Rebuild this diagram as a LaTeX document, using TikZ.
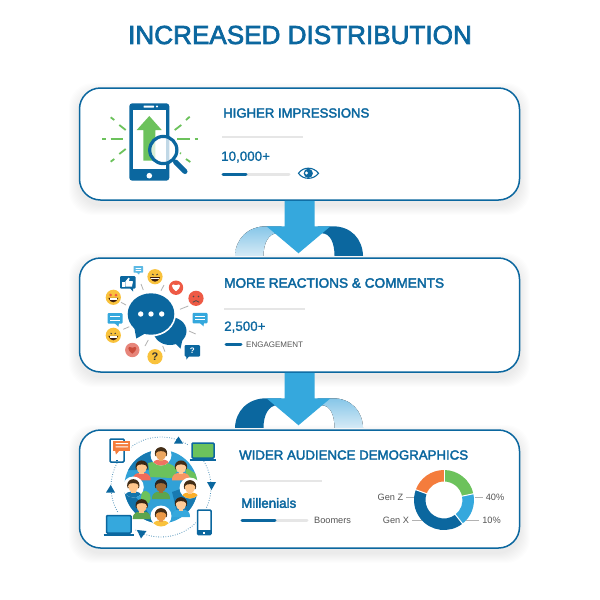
\documentclass[tikz,border=0pt]{standalone}
\usepackage{fontspec}
\setmainfont{Liberation Sans}
\newfontfamily\medfont[FakeBold=2.6]{Liberation Sans}
\newfontfamily\slimfont[FakeBold=1.2]{Liberation Sans}
\usetikzlibrary{calc}
\definecolor{dblue}{HTML}{0B679F}
\definecolor{lblue}{HTML}{35A8DD}
\definecolor{pale}{HTML}{D5EAF6}
\definecolor{pale2}{HTML}{86C6E8}
\definecolor{mygreen}{HTML}{6CC25C}
\definecolor{myorange}{HTML}{F47C3C}
\definecolor{myyellow}{HTML}{F9C23C}
\definecolor{myred}{HTML}{EE5A45}
\definecolor{barg}{HTML}{E6E6E6}
\definecolor{labg}{HTML}{555555}
\tikzset{
  cardbox/.style={draw=dblue,line width=1.5pt,rounded corners=21pt,fill=white,minimum width=440pt,inner sep=0pt},
  head/.style={text=dblue,anchor=west,inner sep=0pt,font=\fontsize{13.3}{14}\medfont},
  val/.style={text=dblue,anchor=west,inner sep=0pt,font=\fontsize{13.4}{14}\slimfont},
  lab/.style={text=labg,anchor=center,inner sep=0pt,font=\fontsize{9.2}{10}\selectfont},
  grayrule/.style={barg,line width=2.5pt},
  track/.style={barg,line width=3pt,line cap=round},
  prog/.style={dblue,line width=3pt,line cap=round},
  ray/.style={mygreen,line width=1.8pt},
  tick/.style={gray!60,line width=.8pt},
  leader/.style={gray!60,line width=1pt},
  dotring/.style={dblue!70,line width=.8pt,dash pattern=on .8pt off 1.6pt},
  devline/.style={draw=dblue,line width=1.5pt,rounded corners=1pt}
}
\newcommand{\shadowfor}[4]{% x1 y1 x2 y2
  \foreach \i in {1,...,10}{
    \fill[black,opacity=.009,rounded corners=24pt] (#1-\i,#2-\i+5) rectangle (#3+\i,#4+\i+5);
  }}
\newcommand{\flowarrow}[4]{% from, to, left colour spec, right colour spec
  \fill[#3] ($(#2.north)+(-64.5,-1.5)$) .. controls ($(#2.north)+(-64,-18)$) and ($(#2.north)+(-52,-31)$) .. ($(#2.north)+(-33,-31)$)
     -- ($(#2.north)+(-18,-31)$) -- ($(#2.north)+(-22,-24)$) .. controls ($(#2.north)+(-31,-24)$) and ($(#2.north)+(-36,-14)$) .. ($(#2.north)+(-36,-1.5)$) -- cycle;
  \fill[#4] ($(#2.north)+(63.5,-1.5)$) .. controls ($(#2.north)+(63,-18)$) and ($(#2.north)+(52,-31)$) .. ($(#2.north)+(33,-31)$)
     -- ($(#2.north)+(18,-31)$) -- ($(#2.north)+(22,-24)$) .. controls ($(#2.north)+(31,-24)$) and ($(#2.north)+(35,-14)$) .. ($(#2.north)+(35,-1.5)$) -- cycle;
  \fill[lblue] ($(#1.south)+(-15,0)$) -- ($(#1.south)+(15,0)$) -- ($(#2.north)+(15,-31)$) -- ($(#2.north)+(31,-31)$)
     -- ($(#2.north)+(-1,-4)$) -- ($(#2.north)+(-33,-31)$) -- ($(#2.north)+(-15,-31)$) -- cycle;
}
\newcommand{\heartshape}[3]{% x y colour
  \begin{scope}[shift={(#1,#2)}]
  \fill[#3] (0,4.2) .. controls (-5.5,0.2) and (-5.2,-4.5) .. (0,-1.8) .. controls (5.2,-4.5) and (5.5,0.2) .. cycle;
  \end{scope}}
\newcommand{\chatbox}[3]{% x y colour
  \begin{scope}[shift={(#1,#2)}]
  \fill[#3,rounded corners=1pt] (-7.5,-5.5) rectangle (7.5,5);
  \fill[#3] (-1,4) -- (4,4) -- (3.5,8) -- cycle;
  \fill[white] (-5,-2.6) rectangle (5,-1.4);
  \fill[white] (-5,.8) rectangle (5,2);
  \end{scope}}
\newcommand{\person}[6]{% x y bg-flag skin hair shirt
  \begin{scope}[shift={(#1,#2)}]
  \ifnum#3=1 \fill[white] (0,0) circle (10.5); \fi
  \begin{scope}
  \ifnum#3=1 \clip (0,0) circle (10.5); \fi
  \fill[#6] (-9,12) .. controls (-9,5) and (-4,4.5) .. (0,4.5) .. controls (4,4.5) and (9,5) .. (9,12) -- cycle;
  \end{scope}
  \fill[#4] (-2.4,5.5) rectangle (2.4,1);
  \fill[#5] (-6.2,-1.4) .. controls (-6.2,-10) and (6.2,-10) .. (6.2,-1.4) -- (5.6,1) -- (-5.6,1) -- cycle;
  \fill[#4] (0,-.6) ellipse [x radius=5.2pt,y radius=5.6pt];
  \fill[#5] (-5.6,-2) .. controls (-5,-8) and (5,-8) .. (5.6,-2) .. controls (3,-4.6) and (-3,-4.6) .. (-5.6,-2) -- cycle;
  \end{scope}}
\begin{document}
\begin{tikzpicture}[x=1pt,y=-1pt]
\useasboundingbox (0,0) rectangle (600,600);
\fill[white] (0,0) rectangle (600,600);
\node[text=dblue,inner sep=0pt,font=\fontsize{26.1}{30}\medfont] (title) at (300,35) {INCREASED DISTRIBUTION};
\shadowfor{79}{88}{520}{200}
\shadowfor{79}{258}{520}{372}
\shadowfor{79}{430}{520}{548}
\node[cardbox,minimum height=112pt] (card1) at (299.5,144) {};
\node[cardbox,minimum height=114pt] (card2) at (299.5,315) {};
\node[cardbox,minimum height=118pt] (card3) at (299.5,489) {};
\flowarrow{card1}{card2}{top color=pale2,bottom color=pale}{dblue}
\flowarrow{card2}{card3}{dblue}{top color=pale2,bottom color=pale}

% ---- card 1 icon
\foreach \a/\b/\c/\d in {102/139.3/106/139.3,110.7/139.3/123.3/139.3,110.7/117.3/114.3/120,119.3/125/125.7/130,110.7/161.7/114.3/159,119.3/154/125.7/149,177.3/139.3/190/139.3,194.7/139.3/198.3/139.3,174.7/130/181.3/125,186/120/189.7/116.7,186/159/190.3/162,180/153/181/153.6}
  \draw[ray] (\a,\b) -- (\c,\d);
\fill[dblue,rounded corners=3pt] (129.3,103.3) rectangle (169.3,180.7);
\fill[white] (132.7,110) rectangle (166,169);
\fill[white,rounded corners=.5pt] (143.5,105.5) rectangle (154,107.5);
\fill[white] (157,106.5) circle (1.2);
\fill[white] (149.3,175.7) circle (2.8);
\fill[mygreen] (149.3,116) -- (161.7,130) -- (155.3,130) -- (155.3,160.7) -- (143.3,160.7) -- (143.3,130) -- (136.7,130) -- cycle;
\draw[dblue,line width=5pt,line cap=round] (175.5,162) -- (185,171.5);
\fill[white,opacity=.75] (163.3,150) circle (13.5);
\draw[dblue,line width=3.2pt] (163.3,150) circle (13.6);
% texts card 1
\node[head,font=\fontsize{13.15}{14}\medfont] (h1) at (223,113) {HIGHER IMPRESSIONS};
\draw[grayrule] (222,137) -- (303,137);
\node[val] (v1) at (221,157) {10,000+};
\draw[track] (223,174.3) -- (289,174.3);
\draw[prog] (223,174.3) -- (246,174.3);
% eye
\draw[dblue,line width=1.1pt] (298.5,173.3) .. controls (303,166.5) and (313.5,166.5) .. (318.5,173.3) .. controls (313.5,180) and (303,180) .. cycle;
\fill[dblue] (308.3,173.3) circle (4.6);
\fill[white] (306.5,173) circle (1.7);

% ---- card 2 icon
\foreach \a/\b/\c/\d in {141/284/143.3/290,161/290.7/164/285,180/309.3/188.3/306,189/331/195.7/334,162.7/346/165/351.7,148.3/340/145/346,129.3/326.7/123.3/329.3,121/302.3/126/305}
  \draw[tick] (\a,\b) -- (\c,\d);
% behind bubble
\fill[dblue] (170,331) ellipse [x radius=16.5pt,y radius=14pt];
\fill[dblue] (172,340) -- (184,333) -- (180.5,348.5) -- cycle;
\fill[dblue] (150,325) -- (170,335) -- (160,339) -- cycle;
\fill[white] (151,314) ellipse [x radius=25pt,y radius=22.5pt];
\fill[white] (131,331) -- (146,337) -- (134,341.5) -- cycle;
\fill[dblue] (151,314) ellipse [x radius=23.3pt,y radius=20.7pt];
\fill[dblue] (134,326) -- (146,333) -- (136.3,338.5) -- cycle;
\foreach \x in {140.7,151,161.7} \fill[white] (\x,314) circle (2.7);
% emoji
\foreach \x/\y in {155/276.7,113.3/297.3,113.3/335.3}{
  \fill[myyellow] (\x,\y) circle (7.6);
  \fill[black!75!myorange] (\x-5,\y+.5) .. controls (\x-3,\y+6.5) and (\x+3,\y+6.5) .. (\x+5,\y+.5) -- cycle;
  \fill[white] (\x-3.6,\y+1) rectangle (\x+3.6,\y+2.4);
}
\fill[myred] (110.6,295) circle (1.5) (116,295) circle (1.5);
\draw[black!75,line width=.8pt] (152,274) -- (153.6,275) (158,274) -- (156.4,275) (110.6,333) -- (112,334) (116,333) -- (114.6,334);
\fill[myred] (196,298.3) circle (7.6);
\fill[black!70] (193.5,296.5) circle (.9) (198.5,296.5) circle (.9);
\draw[black!70,line width=.8pt] (192.8,302.3) .. controls (194.5,300) and (197.5,300) .. (199.2,302.3);
\fill[myred] (176,287.7) circle (7.2);
\heartshape{176}{287}{white}
\fill[myred!70!pale] (132.3,350) circle (7.2);
\heartshape{132.3}{349.5}{myred!85!black}
\fill[myyellow] (155,356.7) circle (7.6);
\node[inner sep=0pt,text=black!80,font=\fontsize{11}{12}\bfseries] (q1) at (155,356.7) {?};
\fill[dblue,rounded corners=1pt] (120,276) rectangle (135.5,288.5);
\fill[dblue] (129,287) -- (133,287) -- (133,291.5) -- cycle;
\fill[white] (122.3,281.5) rectangle (124.6,286.5);
\fill[white] (125.4,286.5) -- (125.4,281.5) -- (128.5,277.7) -- (129.6,278.5) -- (129,281) -- (133,281.3) -- (132,286.5) -- cycle;
\fill[lblue!80!white,rounded corners=.5pt] (133.5,266) rectangle (143,272.5);
\fill[lblue!80!white] (136,272) -- (140,272) -- (139,274.5) -- cycle;
\fill[white] (135.5,268) rectangle (141,268.8) (135.5,270) rectangle (141,270.8);
\chatbox{115}{318.7}{lblue}
\chatbox{200}{318.3}{lblue}
\fill[dblue,rounded corners=1pt] (184.7,345) rectangle (200,356.5);
\fill[dblue] (186,355) -- (190,355) -- (186.5,359.5) -- cycle;
\node[inner sep=0pt,text=white,font=\fontsize{8}{9}\bfseries] (q2) at (192.3,350.7) {?};
% texts card 2
\node[head,font=\fontsize{13.6}{14}\medfont] (h2) at (224,283) {MORE REACTIONS \& COMMENTS};
\draw[grayrule] (224,309) -- (305,309);
\node[val] (v2) at (224,327) {2,500+};
\draw[prog] (226,344) -- (241,344);
\node[lab,anchor=west,font=\fontsize{8}{9}\selectfont] (l2) at (246,344.5) {ENGAGEMENT};

% ---- card 3 icon
\begin{scope}[shift={(161,487)},x=1pt,y=1pt]
\draw[dotring] (0,0) circle (50);
\end{scope}
\fill[dblue] (178.5,436.5) -- (183,443.5) -- (174,443.5) -- cycle;
\fill[dblue] (207,482) -- (216,482) -- (211.5,490) -- cycle;
\fill[dblue] (137,530) -- (146.5,531) -- (141,538.5) -- cycle;
\fill[dblue] (110.7,485) -- (115,492.5) -- (106,492.5) -- cycle;
% devices
\fill[white] (109,438) rectangle (131,463);
\draw[devline,fill=white] (110,439) rectangle (124,462);
\fill[dblue] (116,459.5) rectangle (118,461);
\fill[myorange] (113.3,440.7) rectangle (130,450.7);
\fill[myorange] (115,450) -- (120,450) -- (116,454.5) -- cycle;
\fill[white] (115.5,443) rectangle (128,444) (115.5,446.3) rectangle (128,447.3);
\fill[white] (188,440) rectangle (217,461);
\draw[devline,fill=mygreen] (192,443) rectangle (214,458);
\draw[dblue,line width=1.4pt] (189.5,460) -- (216,460);
\fill[white] (196,508) rectangle (212.5,536);
\draw[devline,fill=white] (197.5,510) rectangle (211,534.5);
\fill[dblue] (197.5,530) rectangle (211,535);
\fill[white] (203.2,532) rectangle (205.2,533.5);
\fill[white] (103,513) rectangle (135,536);
\draw[devline,fill=lblue] (106.5,515.5) rectangle (131,533);
\draw[dblue,line width=1.5pt] (103.5,535) -- (134,535);
% globe
\fill[lblue!90!dblue] (161,486.7) circle (36.7);
\begin{scope}
\clip (161,486.7) circle (36.7);
\fill[dblue!85!lblue] (125,490) .. controls (145,500) and (150,520) .. (160,530) -- (122,530) -- cycle;
\fill[dblue!70!lblue] (172,492) -- (200,482) -- (200,512) -- (178,516) -- cycle;
\fill[dblue!70!lblue] (126,470) .. controls (130,455) and (145,450) .. (155,450) -- (150,470) -- cycle;
\fill[mygreen] (148,463) .. controls (158,460) and (172,462) .. (178,470) -- (172,478) -- (150,477) -- cycle;
\fill[mygreen] (185,467) -- (198,475) -- (198,482) -- (187,480) -- cycle;
\fill[mygreen] (142,492) .. controls (150,488) and (153,498) .. (149,503) -- (140,503) -- cycle;
\end{scope}
\person{161}{455}{1}{orange!55!brown!70!white}{black!65!brown}{myred!85!white}
\person{141.7}{468.3}{0}{orange!45!white}{black!70!brown}{myred!90!white}
\person{181}{468.3}{0}{orange!40!white}{black!65!brown}{myorange!80!white}
\person{161}{487}{0}{brown!85!black}{black!85}{mygreen!85!black}
\person{133.3}{487}{1}{orange!45!white}{black!65!brown}{dblue!80!lblue}
\person{190}{488}{1}{orange!45!white}{black!65!brown}{myyellow!70!orange}
\person{141.7}{507}{0}{orange!45!white}{black!70!brown}{mygreen!85!black}
\person{181}{505}{0}{orange!40!white}{black!70!brown}{lblue}
\person{161}{516}{1}{orange!60!brown!80!white}{black!65!brown}{myyellow}
% texts card 3
\node[head,font=\fontsize{13.25}{14}\medfont] (h3) at (239,455) {WIDER AUDIENCE DEMOGRAPHICS};
\draw[grayrule] (240,481) -- (322,481);
\node[val,font=\fontsize{13.4}{14}\medfont] (m3) at (241,503) {Millenials};
\draw[track] (242,520) -- (307,520);
\draw[prog] (242,520) -- (275,520);
\node[lab,anchor=west] (b3) at (314,520) {Boomers};
% donut
\begin{scope}[shift={(444,500)},x=1pt,y=1pt]
\foreach \s/\e/\c in {90/12/mygreen,12/-52/lblue,-52/-200/dblue,160/90/myorange}
  \fill[\c] (\s:30) arc[start angle=\s,end angle=\e,radius=30pt] -- (\e:18.5) arc[start angle=\e,end angle=\s,radius=18.5pt] -- cycle;
\foreach \a in {90,12,-52,160} \draw[white,line width=1pt] (\a:18) -- (\a:31);
\end{scope}
\node[lab] (gz) at (390.5,497) {Gen Z};
\node[lab] (gx) at (396,520) {Gen X};
\node[lab] (p40) at (495,497) {40\%};
\node[lab] (p10) at (491.5,520) {10\%};
\coordinate (dz) at (414,497);
\coordinate (dx) at (422,520);
\coordinate (d40) at (475,497);
\coordinate (d10) at (466,520);
\draw[leader] (gz.east)++(3,0) -- (dz);
\draw[leader] (gx.east)++(3,0) -- (dx);
\draw[leader] (p40.west)++(-3,0) -- (d40);
\draw[leader] (p10.west)++(-3,0) -- (d10);
\end{tikzpicture}
\end{document}
